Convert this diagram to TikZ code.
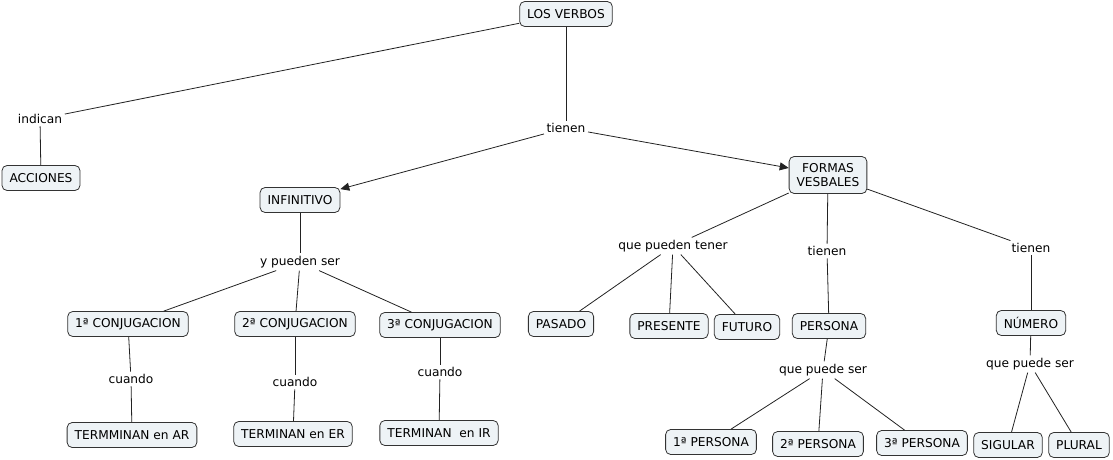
\documentclass[tikz,border=0pt]{standalone}
\usepackage{fontspec}
\setmainfont{DejaVu Sans}
\usetikzlibrary{arrows.meta}
\definecolor{boxfill}{HTML}{EEF3F6}
\definecolor{boxline}{HTML}{333333}
\definecolor{lnk}{HTML}{222222}
\begin{document}
\begin{tikzpicture}[x=1pt,y=-1pt,
  every node/.style={font=\fontsize{12.2}{14}\selectfont},
  concept/.style={draw=boxline,fill=boxfill,rounded corners=5pt,line width=0.8pt,
    inner xsep=7.5pt,inner ysep=3pt,minimum height=25pt,align=center},
  lbl/.style={inner sep=2.5pt},
  lk/.style={draw=lnk,line width=0.8pt},
  ar/.style={lk,-{Triangle[length=9pt,width=8pt]}}]
\useasboundingbox (0,0) rectangle (1113,460);
% concepts
\node[concept] (verbos) at (566,14) {LOS VERBOS};
\node[lbl] (indican) at (40,119) {indican};
\node[concept] (acciones) at (41,178) {ACCIONES};
\node[lbl] (tienen) at (566,128) {tienen};
\node[concept] (inf) at (300,200) {INFINITIVO};
\node[concept,minimum height=37pt] (formas) at (828,175) {FORMAS\\VESBALES};
\node[lbl] (ypueden) at (300,262) {y pueden ser};
\node[concept] (c1) at (128,324) {1ª CONJUGACION};
\node[concept] (c2) at (295,324) {2ª CONJUGACION};
\node[concept] (c3) at (440,325) {3ª CONJUGACION};
\node[lbl] (cu1) at (131,379) {cuando};
\node[lbl] (cu2) at (295,382) {cuando};
\node[lbl] (cu3) at (440,372) {cuando};
\node[concept] (t1) at (132,435) {TERMMINAN en AR};
\node[concept] (t2) at (293,434) {TERMINAN en ER};
\node[concept] (t3) at (439,433) {TERMINAN\ \ en IR};
\node[lbl] (qpt) at (673,246) {que pueden tener};
\node[concept] (pasado) at (561,324) {PASADO};
\node[concept] (presente) at (669,326) {PRESENTE};
\node[concept] (futuro) at (747,327) {FUTURO};
\node[lbl] (tien2) at (827,251) {tienen};
\node[concept] (persona) at (829,326) {PERSONA};
\node[lbl] (tien3) at (1031,248) {tienen};
\node[concept] (numero) at (1031,323) {NÚMERO};
\node[lbl] (qps1) at (823,370) {que puede ser};
\node[concept] (p1) at (711,442) {1ª PERSONA};
\node[concept] (p2) at (818,444) {2ª PERSONA};
\node[concept] (p3) at (922,443) {3ª PERSONA};
\node[lbl] (qps2) at (1030,364) {que puede ser};
\node[concept] (sig) at (1008,445) {SIGULAR};
\node[concept] (plu) at (1079,445) {PLURAL};
% links
\path[lk] (verbos) -- (indican);
\path[lk] (indican) -- (acciones);
\path[lk] (verbos) -- (tienen);
\path[ar] (tienen) -- (inf);
\path[ar] (tienen) -- (formas);
\path[lk] (inf) -- (ypueden);
\path[lk] (ypueden) -- (c1);
\path[lk] (ypueden) -- (c2);
\path[lk] (ypueden) -- (c3);
\path[lk] (c1) -- (cu1);
\path[lk] (cu1) -- (t1);
\path[lk] (c2) -- (cu2);
\path[lk] (cu2) -- (t2);
\path[lk] (c3) -- (cu3);
\path[lk] (cu3) -- (t3);
\path[lk] (formas) -- (qpt);
\path[lk] (qpt) -- (pasado);
\path[lk] (qpt) -- (presente);
\path[lk] (qpt) -- (futuro);
\path[lk] (formas) -- (tien2);
\path[lk] (tien2) -- (persona);
\path[lk] (formas) -- (tien3);
\path[lk] (tien3) -- (numero);
\path[lk] (persona) -- (qps1);
\path[lk] (qps1) -- (p1);
\path[lk] (qps1) -- (p2);
\path[lk] (qps1) -- (p3);
\path[lk] (numero) -- (qps2);
\path[lk] (qps2) -- (sig);
\path[lk] (qps2) -- (plu);
\end{tikzpicture}
\end{document}
